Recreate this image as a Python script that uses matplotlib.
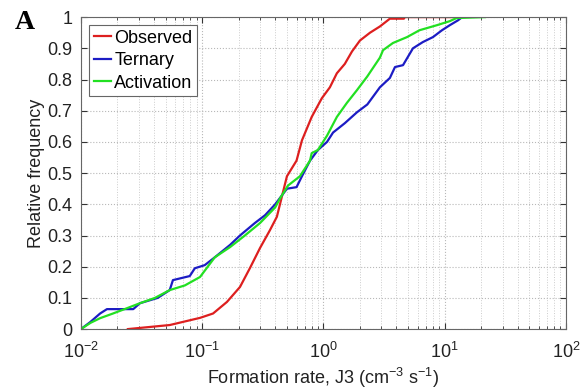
import numpy as np
import matplotlib
matplotlib.use("Agg")
import matplotlib.pyplot as plt
from matplotlib.ticker import FixedLocator, FuncFormatter, LogLocator

plt.rcParams['font.family'] = ['Liberation Sans', 'DejaVu Sans']
plt.rcParams['mathtext.default'] = 'regular'

obs_x = [0.0244, 0.054, 0.096, 0.123, 0.16, 0.205, 0.248, 0.30, 0.362, 0.413,
         0.50, 0.60, 0.665, 0.80, 0.97, 1.13, 1.29, 1.50, 1.72, 2.0, 2.42,
         2.92, 3.53, 4.6, 4.7, 11.7]
obs_y = [0.0, 0.013, 0.036, 0.05, 0.087, 0.135, 0.196, 0.26, 0.317, 0.36,
         0.49, 0.54, 0.605, 0.68, 0.74, 0.775, 0.82, 0.85, 0.89, 0.925, 0.95,
         0.97, 0.995, 0.995, 1.0, 1.0]

ter_x = [0.01, 0.0119, 0.0144, 0.0164, 0.027, 0.0307, 0.043, 0.054, 0.0574,
         0.079, 0.087, 0.105, 0.127, 0.17, 0.205, 0.272, 0.33, 0.40, 0.50,
         0.60, 0.665, 0.775, 0.90, 1.07, 1.20, 1.50, 1.89, 2.3, 2.92, 3.53,
         3.89, 4.53, 5.47, 6.6, 8.0, 9.5, 11.0, 12.9, 13.9]
ter_y = [0.0, 0.022, 0.05, 0.064, 0.064, 0.083, 0.10, 0.125, 0.157,
         0.17, 0.195, 0.205, 0.23, 0.27, 0.30, 0.34, 0.365, 0.40, 0.45,
         0.455, 0.49, 0.54, 0.574, 0.60, 0.63, 0.66, 0.695, 0.72, 0.775, 0.805,
         0.84, 0.846, 0.90, 0.92, 0.936, 0.958, 0.974, 0.99, 1.0]

act_x = [0.01, 0.012, 0.0144, 0.0184, 0.024, 0.0307, 0.0408, 0.054, 0.072,
         0.096, 0.127, 0.17, 0.225, 0.30, 0.40, 0.44, 0.51, 0.64, 0.775, 0.80,
         0.90, 1.07, 1.29, 1.56, 1.89, 2.3, 2.92, 3.1, 3.74, 4.89, 6.2, 8.6,
         11.0, 12.5, 21.5]
act_y = [0.0, 0.02, 0.035, 0.05, 0.067, 0.083, 0.10, 0.125, 0.14,
         0.167, 0.23, 0.263, 0.30, 0.34, 0.39, 0.42, 0.46, 0.49, 0.54, 0.564,
         0.574, 0.62, 0.68, 0.725, 0.766, 0.81, 0.87, 0.894, 0.917, 0.936, 0.958, 0.974,
         0.987, 0.997, 1.0]

fig = plt.figure(figsize=(5.82, 3.89), dpi=100)
ax = fig.add_axes([0.139, 0.154, 0.8335, 0.802])

ax.plot(obs_x, obs_y, color='#dd1f1f', lw=1.6, label='Observed')
ax.plot(ter_x, ter_y, color='#1c1cc4', lw=1.6, label='Ternary')
ax.plot(act_x, act_y, color='#22e022', lw=1.6, label='Activation')

ax.set_xscale('log')
ax.set_xlim(1e-2, 1e2)
ax.set_ylim(0, 1)
ax.yaxis.set_major_locator(FixedLocator(np.arange(0, 1.01, 0.1)))
ax.yaxis.set_major_formatter(FuncFormatter(lambda v, p: '%g' % round(v, 1)))
ax.xaxis.set_minor_locator(LogLocator(base=10, subs=np.arange(2, 10)))

ax.grid(True, which='major', ls=':', color='#b8b8b8', lw=0.8)
ax.grid(True, which='minor', axis='x', ls=':', color='#cccccc', lw=0.7)
ax.set_axisbelow(True)

ax.tick_params(which='both', direction='in', top=True, right=True,
               colors='#333333', labelcolor='#222222')
ax.tick_params(which='major', length=4, labelsize=13, pad=6)
ax.tick_params(axis='x', which='major', pad=9)
ax.tick_params(which='minor', length=2)
for s in ax.spines.values():
    s.set_color('#666666')
    s.set_linewidth(0.8)

ax.set_xlabel('Formation rate, J3 (cm$^{-3}$ s$^{-1}$)', fontsize=13,
              color='#222222', labelpad=3)
ax.set_ylabel('Relative frequency', fontsize=13, color='#222222', labelpad=2)

leg = ax.legend(loc='upper left', fontsize=13, handlelength=0.95,
                handletextpad=0.2, borderaxespad=0.45, labelspacing=0.3,
                borderpad=0.25, fancybox=False, framealpha=1)
leg.get_frame().set_edgecolor('#666666')
leg.get_frame().set_linewidth(0.8)

fig.text(0.025, 0.925, 'A', fontsize=20, fontweight='bold',
         family=['Liberation Serif', 'DejaVu Serif'])

fig.savefig('out.png', dpi=100)
